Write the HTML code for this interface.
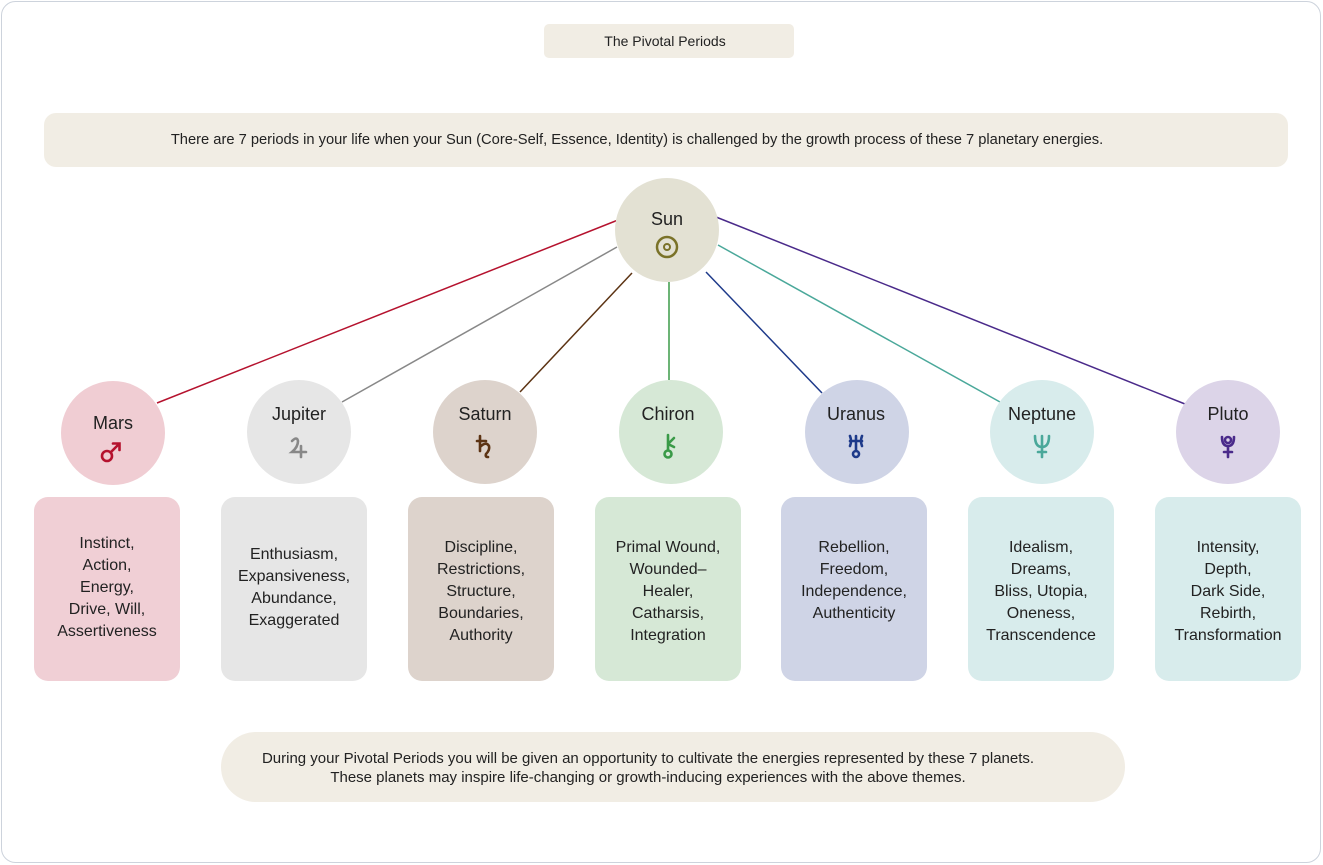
<!DOCTYPE html>
<html><head><meta charset="utf-8"><style>
body{margin:0;background:#fff;}
svg{display:block;font-family:"Liberation Sans",sans-serif;}
</style></head><body>
<svg width="1323" height="865" viewBox="0 0 1323 865" xmlns="http://www.w3.org/2000/svg">
<rect x="1.5" y="1.5" width="1319" height="861" rx="14" fill="#fff" stroke="#cdd3dc"/>
<rect x="544" y="24" width="250" height="34" rx="5" fill="#f1ede4"/>
<text x="665" y="46" font-size="14" text-anchor="middle" fill="#222">The Pivotal Periods</text>
<rect x="44" y="113" width="1244" height="54" rx="12" fill="#f1ede4"/>
<text x="637" y="144" font-size="14.7" text-anchor="middle" fill="#222">There are 7 periods in your life when your Sun (Core-Self, Essence, Identity) is challenged by the growth process of these 7 planetary energies.</text>
<g stroke-width="1.5" fill="none">
<line x1="618" y1="220" x2="157" y2="403" stroke="#b5122e"/>
<line x1="617" y1="247" x2="342" y2="402" stroke="#888"/>
<line x1="632" y1="273" x2="520" y2="392" stroke="#5c3313"/>
<line x1="669" y1="282" x2="669" y2="380" stroke="#3a9a48"/>
<line x1="706" y1="272" x2="822" y2="393" stroke="#1e3a8a"/>
<line x1="718" y1="245" x2="1000" y2="402" stroke="#4aa89a"/>
<line x1="716" y1="217" x2="1185" y2="404" stroke="#4a2a8a"/>
</g>
<circle cx="667" cy="230" r="52" fill="#e3e1d3"/>
<text x="667" y="225" font-size="18" text-anchor="middle" fill="#222">Sun</text>
<circle cx="667" cy="247" r="10" fill="none" stroke="#7a7228" stroke-width="2.5"/>
<circle cx="667" cy="247" r="3" fill="none" stroke="#7a7228" stroke-width="2"/>

<g font-size="18" text-anchor="middle" fill="#222">
<circle cx="113" cy="433" r="52" fill="#f0cdd3"/><text x="113" y="429">Mars</text>
<circle cx="299" cy="432" r="52" fill="#e6e6e6"/><text x="299" y="420">Jupiter</text>
<circle cx="485" cy="432" r="52" fill="#ddd3cc"/><text x="485" y="420">Saturn</text>
<circle cx="671" cy="432" r="52" fill="#d6e8d6"/><text x="668" y="420">Chiron</text>
<circle cx="857" cy="432" r="52" fill="#cfd4e6"/><text x="856" y="420">Uranus</text>
<circle cx="1042" cy="432" r="52" fill="#d8ecec"/><text x="1042" y="420">Neptune</text>
<circle cx="1228" cy="432" r="52" fill="#dcd4e8"/><text x="1228" y="420">Pluto</text>
</g>
<g fill="none" stroke-width="2.6" stroke-linecap="round">
<!-- Mars -->
<g stroke="#b5122e"><circle cx="107" cy="456" r="5"/><path d="M111 452 L119 444 M113 443.5 H119.5 V450"/></g>
<!-- Jupiter -->
<g stroke="#888"><path d="M292 441 Q297 436 298 441 Q298 447 292 452 H306 M301 446 V457"/></g>
<!-- Saturn -->
<g stroke="#5c3313"><path d="M480 436 V451 M477 441 H486 M480 447 Q486 441 489 446 Q490 450 486 454 Q485 457 488 457"/></g>
<!-- Chiron -->
<g stroke="#3a9a48"><circle cx="668" cy="454" r="3.5"/><path d="M668 450.5 V435 M668 444 L674 438 M668 444 L674 447"/></g>
<!-- Uranus -->
<g stroke="#1e3a8a"><circle cx="856" cy="454" r="3"/><path d="M856 451 V436 M850 436 Q852 441 850 446 M862 436 Q860 441 862 446 M850 441 H862"/></g>
<!-- Neptune -->
<g stroke="#4aa89a"><path d="M1035 436 Q1035 447 1042 447 Q1049 447 1049 436 M1042 436 V457 M1038 452 H1046"/></g>
<!-- Pluto -->
<g stroke="#4a2a8a"><circle cx="1228" cy="440" r="3"/><path d="M1222 437 Q1222 446 1228 446 Q1234 446 1234 437 M1228 446 V457 M1224 452 H1232"/></g>
</g>

<rect x="34" y="497" width="146" height="184" rx="14" fill="#f0cfd5"/>
<rect x="221" y="497" width="146" height="184" rx="14" fill="#e6e6e6"/>
<rect x="408" y="497" width="146" height="184" rx="14" fill="#ddd3cc"/>
<rect x="595" y="497" width="146" height="184" rx="14" fill="#d6e8d6"/>
<rect x="781" y="497" width="146" height="184" rx="14" fill="#cfd4e6"/>
<rect x="968" y="497" width="146" height="184" rx="14" fill="#d8ecec"/>
<rect x="1155" y="497" width="146" height="184" rx="14" fill="#d8ecec"/>
<g font-size="16" text-anchor="middle" fill="#222">
<text x="107" y="548">Instinct,</text><text x="107" y="570">Action,</text><text x="107" y="592">Energy,</text><text x="107" y="614">Drive, Will,</text><text x="107" y="636">Assertiveness</text>
<text x="294" y="559">Enthusiasm,</text><text x="294" y="581">Expansiveness,</text><text x="294" y="603">Abundance,</text><text x="294" y="625">Exaggerated</text>
<text x="481" y="552">Discipline,</text><text x="481" y="574">Restrictions,</text><text x="481" y="596">Structure,</text><text x="481" y="618">Boundaries,</text><text x="481" y="640">Authority</text>
<text x="668" y="552">Primal Wound,</text><text x="668" y="574">Wounded–</text><text x="668" y="596">Healer,</text><text x="668" y="618">Catharsis,</text><text x="668" y="640">Integration</text>
<text x="854" y="552">Rebellion,</text><text x="854" y="574">Freedom,</text><text x="854" y="596">Independence,</text><text x="854" y="618">Authenticity</text>
<text x="1041" y="552">Idealism,</text><text x="1041" y="574">Dreams,</text><text x="1041" y="596">Bliss, Utopia,</text><text x="1041" y="618">Oneness,</text><text x="1041" y="640">Transcendence</text>
<text x="1228" y="552">Intensity,</text><text x="1228" y="574">Depth,</text><text x="1228" y="596">Dark Side,</text><text x="1228" y="618">Rebirth,</text><text x="1228" y="640">Transformation</text>
</g>

<rect x="221" y="732" width="904" height="70" rx="35" fill="#f1ede4"/>
<g font-size="15" text-anchor="middle" fill="#222">
<text x="648" y="763">During your Pivotal Periods you will be given an opportunity to cultivate the energies represented by these 7 planets.</text>
<text x="648" y="782">These planets may inspire life-changing or growth-inducing experiences with the above themes.</text>
</g>
</svg>
</body></html>
